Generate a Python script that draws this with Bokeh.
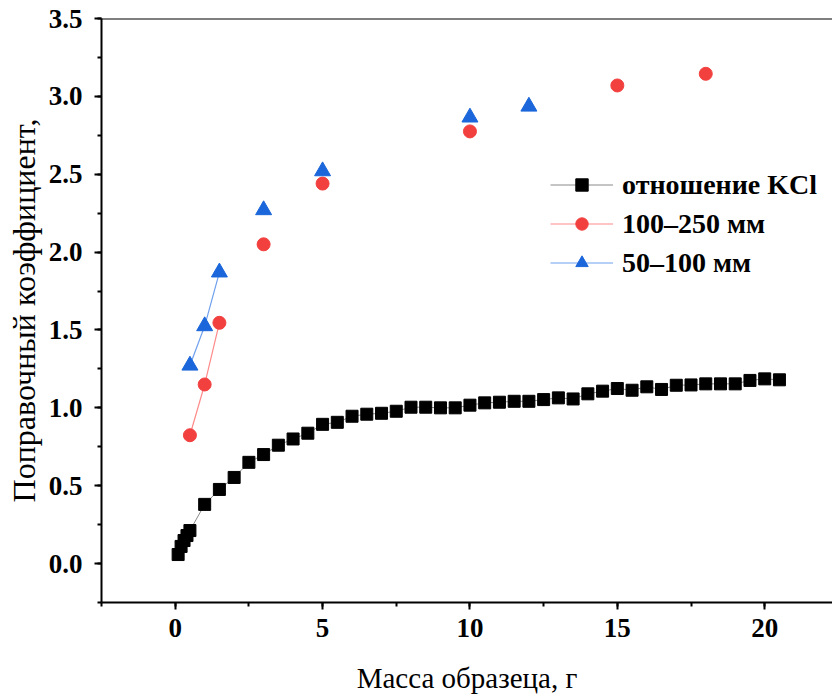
from bokeh.plotting import figure
from bokeh.models import Range1d, Span, SingleIntervalTicker, NumeralTickFormatter, Legend, LegendItem
from bokeh.embed import file_html
from bokeh.resources import INLINE

# KCl ratio series
kcl_x = [0.1, 0.2, 0.3, 0.4, 0.5, 1.0, 1.5, 2.0, 2.5, 3.0, 3.5, 4.0, 4.5, 5.0, 5.5,
         6.0, 6.5, 7.0, 7.5, 8.0, 8.5, 9.0, 9.5, 10.0, 10.5, 11.0, 11.5, 12.0, 12.5,
         13.0, 13.5, 14.0, 14.5, 15.0, 15.5, 16.0, 16.5, 17.0, 17.5, 18.0, 18.5,
         19.0, 19.5, 20.0, 20.5]
kcl_y = [0.058, 0.11, 0.148, 0.18, 0.212, 0.38, 0.476, 0.553, 0.65, 0.70, 0.76, 0.80,
         0.837, 0.894, 0.907, 0.946, 0.959, 0.965, 0.978, 1.004, 1.004, 1.0, 1.0,
         1.017, 1.032, 1.036, 1.042, 1.042, 1.053, 1.064, 1.057, 1.09, 1.107, 1.124,
         1.113, 1.135, 1.118, 1.145, 1.147, 1.154, 1.154, 1.154, 1.176, 1.186, 1.18]

# 100-250 mm series
red_x = [0.5, 1.0, 1.5, 3.0, 5.0, 10.0, 15.0, 18.0]
red_y = [0.824, 1.15, 1.546, 2.05, 2.44, 2.775, 3.07, 3.145]

# 50-100 mm series
blue_x = [0.5, 1.0, 1.5, 3.0, 5.0, 10.0, 12.0]
blue_y = [1.272, 1.525, 1.87, 2.27, 2.52, 2.865, 2.935]

labels = ["отношение KCl", "100–250 мм", "50–100 мм"]

FONT = "Liberation Serif"

p = figure(width=832, height=699, output_backend="svg", toolbar_location=None,
           x_range=Range1d(-2.5, 22.3), y_range=Range1d(-0.25, 3.5),
           min_border_left=101, min_border_right=0, min_border_top=18, min_border_bottom=97)
p.outline_line_color = None
p.grid.visible = False
p.background_fill_color = "white"
p.border_fill_color = "white"

for ax in (p.xaxis[0], p.yaxis[0]):
    ax.axis_line_width = 2
    ax.major_tick_line_width = 2
    ax.minor_tick_line_width = 2
    ax.major_tick_in = 0
    ax.major_tick_out = 7
    ax.minor_tick_in = 0
    ax.minor_tick_out = 4
    ax.major_label_text_font = FONT
    ax.major_label_text_font_style = "bold"
    ax.major_label_text_font_size = "27px"
    ax.major_label_text_color = "black"
    ax.axis_label_text_font = FONT
    ax.axis_label_text_font_style = "normal"
    ax.axis_label_text_color = "black"

p.xaxis.axis_label_text_font_size = "29px"
p.yaxis.axis_label_text_font_size = "32px"
p.xaxis.ticker = SingleIntervalTicker(interval=5, num_minor_ticks=2)
p.yaxis.ticker = SingleIntervalTicker(interval=0.5, num_minor_ticks=2)
p.yaxis.formatter = NumeralTickFormatter(format="0.0")
p.xaxis.axis_label = "Масса образеца, г"
p.yaxis.axis_label = "Поправочный коэффициент,"
p.xaxis.major_label_standoff = 9
p.yaxis.major_label_standoff = 12
p.xaxis.axis_label_standoff = 22
p.yaxis.axis_label_standoff = 4

p.add_layout(Span(location=3.5, dimension="width", line_color="black", line_width=2))

RED = "#F2403F"
BLUE = "#1A66DA"

k_line = p.line(kcl_x, kcl_y, line_color="#8a8a8a", line_width=1)
k_pts = p.scatter(kcl_x, kcl_y, marker="square", size=12, fill_color="black", line_color="black")

r_line = p.line(red_x[:3], red_y[:3], line_color="#FF8A8A", line_width=1.2)
r_pts = p.scatter(red_x, red_y, marker="circle", size=13, fill_color=RED, line_color=RED)

b_line = p.line(blue_x[:3], blue_y[:3], line_color="#6FA0EE", line_width=1.2)
b_pts = p.scatter(blue_x, blue_y, marker="triangle", size=16, fill_color=BLUE, line_color=BLUE)

legend = Legend(items=[
    LegendItem(label=labels[0], renderers=[k_line, k_pts]),
    LegendItem(label=labels[1], renderers=[r_line, r_pts]),
    LegendItem(label=labels[2], renderers=[b_line, b_pts]),
], location=(449, 320))
legend.border_line_color = None
legend.background_fill_alpha = 0
legend.padding = 0
legend.margin = 0
legend.spacing = 0
legend.glyph_width = 63
legend.glyph_height = 31
legend.label_height = 39
legend.label_standoff = 9
legend.label_text_font = FONT
legend.label_text_font_style = "bold"
legend.label_text_font_size = "28px"
legend.label_text_color = "black"
p.add_layout(legend)

open("out.html", "w").write(file_html(p, INLINE))
